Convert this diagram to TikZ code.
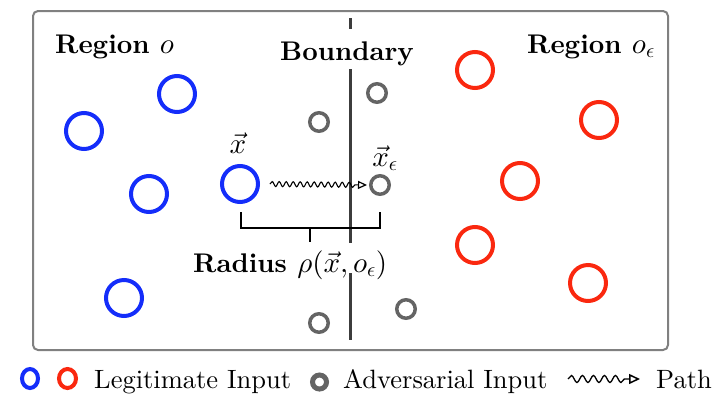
\documentclass[tikz,border=0pt]{standalone}
\usepackage{fontspec}
\setmainfont{lmroman10-regular}[Extension=.otf, BoldFont=lmroman10-bold, ItalicFont=lmroman10-italic]
\DeclareFontShape{OML}{cmm}{m}{it}{<-> cmmi10}{}
\DeclareFontShape{OMS}{cmsy}{m}{n}{<-> cmsy10}{}
\DeclareFontShape{OT1}{cmr}{m}{n}{<-> cmr10}{}
\newcommand{\bigmath}[1]{{\fontsize{29}{32}\selectfont$#1$}}
\usetikzlibrary{arrows.meta,decorations.pathmorphing}
\definecolor{legblue}{RGB}{20,45,250}
\definecolor{legred}{RGB}{250,40,15}
\definecolor{advgray}{RGB}{100,100,100}
\definecolor{framegray}{RGB}{128,128,128}
\definecolor{bndgray}{RGB}{60,60,60}
\begin{document}
\begin{tikzpicture}[x=1pt,y=-1pt,
  txt/.style={font=\fontsize{26.5}{30}\selectfont, inner sep=0pt},
  btxt/.style={font=\fontsize{27}{30}\selectfont\bfseries, inner sep=0pt},
  legit/.style={circle, draw, line width=4pt, minimum size=36pt, inner sep=0pt},
  blueinput/.style={legit, draw=legblue},
  redinput/.style={legit, draw=legred},
  advinput/.style={circle, draw=advgray, line width=3.5pt, minimum size=18.5pt, inner sep=0pt},
  wavy/.style={decorate, decoration={snake, amplitude=2.5pt, segment length=7pt, post length=9pt}, line width=1.1pt, -{Triangle[open, length=9pt, width=8pt, line width=1.2pt]}},
  legwavy/.style={decorate, decoration={snake, amplitude=3.5pt, segment length=11pt, post length=13pt}, line width=1.3pt, -{Triangle[open, length=11pt, width=10pt, line width=1.5pt]}},
  bracketline/.style={line width=2.8pt, black},
]
\useasboundingbox (0,0) rectangle (727,397);
% frame
\draw[framegray, line width=2pt, rounded corners=5pt] (33,11) rectangle (668,350);
% boundary line
\coordinate (btop) at (350,18);
\coordinate (bbot) at (350,340);
\draw[bndgray, line width=3pt] (btop) -- (bbot);
% labels
\node[btxt, anchor=base west] (rego) at (55,53) {Region \bigmath{o}};
\node[btxt, anchor=base west] (regoe) at (527,53) {Region \bigmath{o_\epsilon}};
\node[btxt, anchor=base, fill=white, text height=31pt, text depth=9pt] (bnd) at (347,60) {Boundary};
% blue inputs
\node[blueinput] (b1) at (84,131) {};
\node[blueinput] (b2) at (177,94) {};
\node[blueinput] (b3) at (149,194) {};
\node[blueinput] (x) at (240,184) {};
\node[blueinput] (b5) at (124,298) {};
% red inputs
\node[redinput] (r1) at (475,70) {};
\node[redinput] (r2) at (599,120) {};
\node[redinput] (r3) at (520,181) {};
\node[redinput] (r4) at (475,245) {};
\node[redinput] (r5) at (588,283) {};
% adversarial inputs
\node[advinput] (a1) at (319,122) {};
\node[advinput] (a2) at (377,93) {};
\node[advinput] (xe) at (380,185) {};
\node[advinput] (a4) at (319,323) {};
\node[advinput] (a5) at (406,309) {};
% vector labels
\node[txt, anchor=base] (xl) at (238,153) {\bigmath{\vec{x}}};
\node[txt, anchor=base] (xel) at (385,166) {\bigmath{\vec{x}_\epsilon}};
% path
\draw[wavy] ([xshift=10pt]x.east) -- ([xshift=-2pt]xe.west);
% bracket
\coordinate (brl) at (241,212);
\coordinate (brr) at (380,212);
\coordinate (brm) at (310,228);
\coordinate (brmb) at (310,242);
\draw[bracketline] (brl) |- (brm) -| (brr);
\draw[bracketline] (brm) -- (brmb);
\node[btxt, anchor=base west, fill=white, text height=29pt, text depth=1pt] (rad) at (193,272) {Radius \bigmath{\rho(\vec{x},o_\epsilon)}};
% legend
\draw[legblue, line width=4pt] (30,378.5) ellipse [x radius=8pt, y radius=9.5pt];
\draw[legred, line width=4pt] (67.5,378.5) ellipse [x radius=8.5pt, y radius=9.5pt];
\node[txt, anchor=base west] (leg1) at (94,388) {Legitimate Input};
\draw[advgray, line width=5pt] (319.5,382) ellipse [x radius=7pt, y radius=7pt];
\node[txt, anchor=base west] (leg2) at (343,388) {Adversarial Input};
\coordinate (pl) at (568,379);
\coordinate (pr) at (640,379);
\draw[legwavy] (pl) -- (pr);
\node[txt, anchor=base west] (leg3) at (656,388) {Path};
\end{tikzpicture}
\end{document}
